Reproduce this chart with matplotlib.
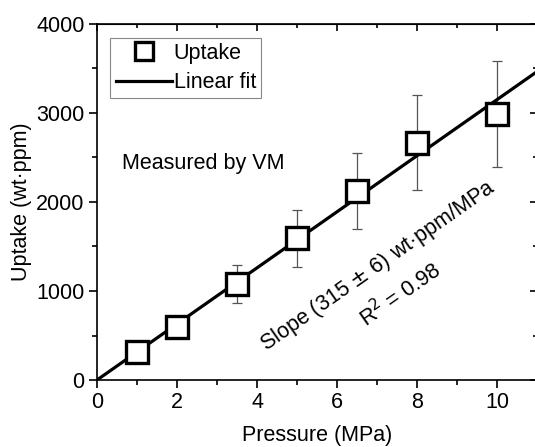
import matplotlib
matplotlib.use("Agg")
import matplotlib.pyplot as plt
import numpy as np
from matplotlib.ticker import MultipleLocator

plt.rcParams['font.family'] = ['Liberation Sans', 'DejaVu Sans']

pressure = [1, 2, 3.5, 5, 6.5, 8, 10]
uptake = [318, 590, 1080, 1590, 2120, 2665, 2990]
uptake_err = [55, 40, 215, 315, 425, 535, 595]
slope = 315
fit_x = [0, 11]

FS = 15.5
fig = plt.figure(figsize=(5.35, 4.47), dpi=100)
W, H = 535, 447
ax = fig.add_axes([97 / W, 1 - 380 / H, 440 / W, 356 / H])

ax.errorbar(pressure, uptake, yerr=uptake_err, fmt='none', ecolor='#555555',
            elinewidth=0.9, capsize=3.8, capthick=0.9, zorder=2)
fit_y = [slope * x for x in fit_x]
line, = ax.plot(fit_x, fit_y, color='black', lw=2.3, zorder=3, label='Linear fit')
pts, = ax.plot(pressure, uptake, 's', ms=16, mfc='white', mec='black', mew=2.4,
               zorder=4, label='Uptake')

ax.set_xlim(0, 11)
ax.set_ylim(0, 4000)
ax.xaxis.set_major_locator(MultipleLocator(2))
ax.xaxis.set_minor_locator(MultipleLocator(1))
ax.yaxis.set_major_locator(MultipleLocator(1000))
ax.yaxis.set_minor_locator(MultipleLocator(500))
ax.tick_params(which='major', direction='out', length=6, width=1.2, labelsize=FS, pad=3)
ax.tick_params(which='minor', direction='out', length=3.5, width=1.2)
for s in ax.spines.values():
    s.set_linewidth(1.2)

sx = ax.secondary_xaxis('top')
sx.xaxis.set_major_locator(MultipleLocator(2))
sx.xaxis.set_minor_locator(MultipleLocator(1))
sx.tick_params(which='major', direction='in', length=5, width=1.2, labeltop=False)
sx.tick_params(which='minor', direction='in', length=3, width=1.2)
sy = ax.secondary_yaxis('right')
sy.yaxis.set_major_locator(MultipleLocator(1000))
sy.yaxis.set_minor_locator(MultipleLocator(500))
sy.tick_params(which='major', direction='in', length=5, width=1.2, labelright=False)
sy.tick_params(which='minor', direction='in', length=3, width=1.2)

ax.set_xlabel('Pressure (MPa)', fontsize=FS, labelpad=8)
ax.set_ylabel('Uptake (wt·ppm)', fontsize=FS, labelpad=3)

leg = ax.legend(handles=[pts, line], loc='upper left', bbox_to_anchor=(0.03, 0.962),
                borderaxespad=0, fontsize=FS, handlelength=2.6, handletextpad=0.1,
                labelspacing=0.38, borderpad=0.25, fancybox=False, framealpha=1,
                edgecolor='#888888', markerscale=0.85)
leg.get_frame().set_linewidth(0.8)

ax.text(0.62, 2430, 'Measured by VM', fontsize=FS, va='center', ha='left')
ax.text(7.03, 1280, 'Slope (315 $\\pm$ 6) wt·ppm/MPa', fontsize=FS, rotation=35,
        ha='center', va='center', rotation_mode='anchor')
ax.text(7.57, 955, 'R$^2$ = 0.98', fontsize=FS, rotation=35,
        ha='center', va='center', rotation_mode='anchor')

fig.savefig('out.png', dpi=100)
